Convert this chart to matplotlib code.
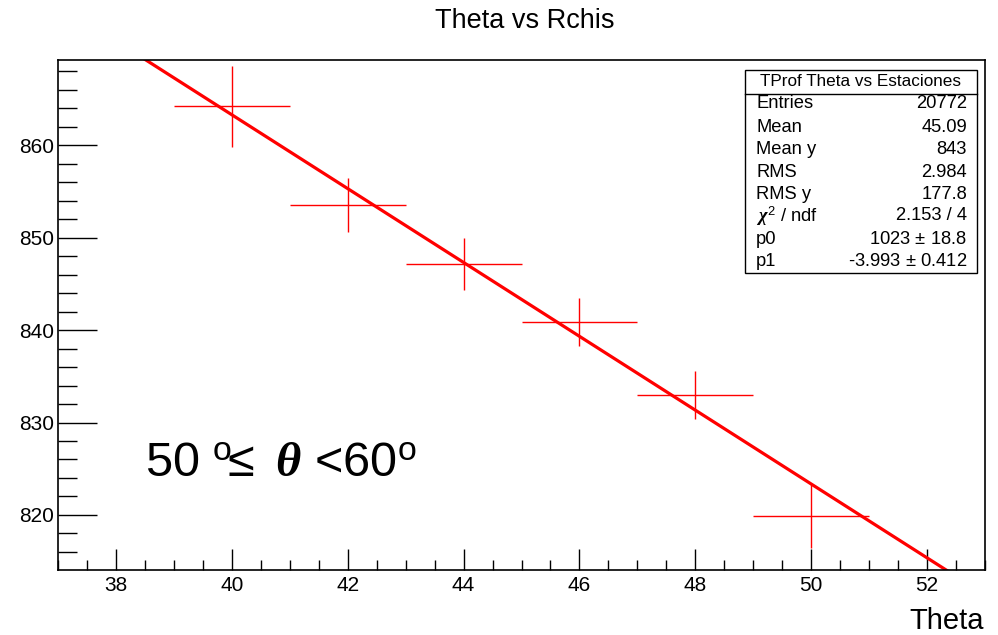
import matplotlib.pyplot as plt
from matplotlib.patches import Rectangle
from matplotlib.ticker import MultipleLocator

plt.rcParams['font.family'] = ['Liberation Sans', 'DejaVu Sans']
plt.rcParams['mathtext.fontset'] = 'custom'
plt.rcParams['mathtext.rm'] = 'Liberation Sans'
plt.rcParams['mathtext.it'] = 'Liberation Serif:italic:bold'

# profile points (bin centres, mean, errors)
theta = [40, 42, 44, 46, 48, 50]
rchis = [864.2, 853.5, 847.1, 840.9, 833.0, 819.9]
yerr = [4.4, 2.9, 2.8, 2.6, 2.6, 3.5]
xerr = [1, 1, 1, 1, 1, 1]

# linear fit p0 + p1*x
p0 = 1023
p1 = -3.993
fit_x = [37, 53]

stat_names = ['Entries', 'Mean', 'Mean y', 'RMS', 'RMS y', r'$\mathit{\chi}^{2}$ / ndf', 'p0', 'p1']
stat_vals = ['20772', '45.09', '843', '2.984', '177.8', '2.153 / 4',
             r'1023 $\pm$ 18.8', r'-3.993 $\pm$ 0.412']

W, H = 998, 635
fig = plt.figure(figsize=(W / 100, H / 100), dpi=100)
ax = fig.add_axes([58 / W, (H - 570) / H, 927 / W, 510 / H])

ax.errorbar(theta, rchis, xerr=xerr, yerr=yerr, fmt='none', ecolor='red',
            elinewidth=1.0, capsize=0)
ax.plot(fit_x, [p0 + p1 * x for x in fit_x], color='red', lw=2.3)

ax.set_xlim(37, 53)
ax.set_ylim(814.05, 869.2)
ax.xaxis.set_major_locator(MultipleLocator(2))
ax.xaxis.set_minor_locator(MultipleLocator(0.5))
ax.yaxis.set_major_locator(MultipleLocator(10))
ax.yaxis.set_minor_locator(MultipleLocator(2))
ax.tick_params(axis='x', which='major', direction='in', length=15, width=1, labelsize=15, pad=4)
ax.tick_params(axis='x', which='minor', direction='in', length=7.5, width=1)
ax.tick_params(axis='y', which='major', direction='in', length=28, width=1, labelsize=15, pad=3)
ax.tick_params(axis='y', which='minor', direction='in', length=14, width=1)
for s in ax.spines.values():
    s.set_linewidth(1.2)

fig.text(525 / W, 1 - 21 / H, 'Theta vs Rchis', ha='center', va='center', fontsize=19.5)
fig.text(984 / W, 1 - 621 / H, 'Theta', ha='right', va='center', fontsize=21)

fig.text(145 / W, 1 - 463 / H,
         r'50 $^{\mathrm{o}}\!\!\leq$ $\theta$ <60$^{\mathrm{o}}$',
         ha='left', va='center', fontsize=35)

# stats box
bl, br, bt, bb = 745, 977, 70, 273
fig.patches.append(Rectangle((bl / W, 1 - bb / H), (br - bl) / W, (bb - bt) / H,
                             transform=fig.transFigure, fill=True, facecolor='white',
                             edgecolor='black', lw=1.0, zorder=5))
fig.lines.append(plt.Line2D([bl / W, br / W], [1 - 94 / H, 1 - 94 / H],
                            transform=fig.transFigure, color='black', lw=1.0, zorder=6))
fig.text((bl + br) / 2 / W, 1 - 82 / H, 'TProf Theta vs Estaciones', ha='center',
         va='center', fontsize=12.3, zorder=7)
rows_y = [104, 127, 149, 172, 194, 216, 240, 262]
for name, val, yy in zip(stat_names, stat_vals, rows_y):
    fig.text(756 / W, 1 - yy / H, name, ha='left', va='center', fontsize=13.2, zorder=7)
    fig.text(967 / W, 1 - yy / H, val, ha='right', va='center', fontsize=13.2, zorder=7)

fig.savefig('out.png', dpi=100)
